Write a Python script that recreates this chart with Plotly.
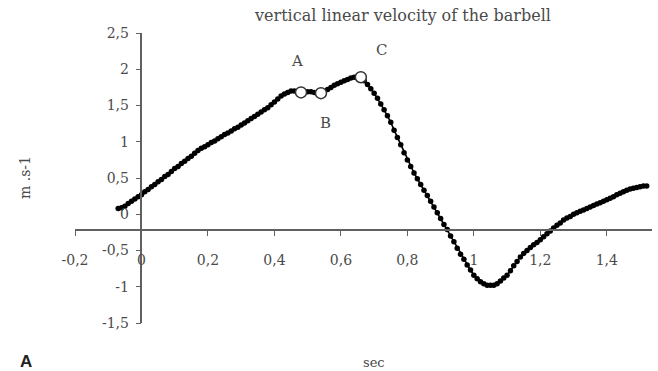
import plotly.graph_objects as go

# ---- data ----
time_s = [round(-0.07 + 0.01 * i, 2) for i in range(160)]
velocity = [
    0.08, 0.09, 0.11, 0.15, 0.18, 0.21, 0.24,                      # -0.07 .. -0.01
    0.27, 0.31, 0.34, 0.38, 0.41, 0.45, 0.48, 0.52, 0.55, 0.59,    # 0.00 .. 0.09
    0.63, 0.66, 0.70, 0.73, 0.77, 0.80, 0.84, 0.88, 0.91, 0.93,    # 0.10 .. 0.19
    0.96, 0.99, 1.01, 1.04, 1.07, 1.10, 1.12, 1.15, 1.18, 1.20,    # 0.20 .. 0.29
    1.23, 1.26, 1.29, 1.32, 1.35, 1.38, 1.41, 1.44, 1.47, 1.51,    # 0.30 .. 0.39
    1.55, 1.59, 1.63, 1.66, 1.68, 1.70, 1.70, 1.69, 1.68, 1.69,    # 0.40 .. 0.49
    1.69, 1.69, 1.68, 1.67, 1.67, 1.69, 1.72, 1.75, 1.78, 1.80,    # 0.50 .. 0.59
    1.82, 1.84, 1.86, 1.88, 1.89, 1.90, 1.89, 1.84, 1.79, 1.73,    # 0.60 .. 0.69
    1.67, 1.60, 1.52, 1.44, 1.36, 1.27, 1.16, 1.06, 0.96, 0.85,    # 0.70 .. 0.79
    0.75, 0.66, 0.57, 0.49, 0.41, 0.33, 0.26, 0.18, 0.10, 0.02,    # 0.80 .. 0.89
    -0.06, -0.14, -0.21, -0.30, -0.38, -0.47, -0.55, -0.62, -0.70, -0.77,  # 0.90 .. 0.99
    -0.84, -0.89, -0.93, -0.96, -0.98, -0.98, -0.98, -0.96, -0.92, -0.88,  # 1.00 .. 1.09
    -0.84, -0.78, -0.71, -0.65, -0.59, -0.54, -0.50, -0.46, -0.42, -0.39,  # 1.10 .. 1.19
    -0.35, -0.31, -0.27, -0.23, -0.19, -0.15, -0.12, -0.08, -0.05, -0.03,  # 1.20 .. 1.29
    0.00, 0.02, 0.04, 0.06, 0.08, 0.10, 0.12, 0.14, 0.16, 0.18,    # 1.30 .. 1.39
    0.20, 0.22, 0.24, 0.27, 0.29, 0.31, 0.33, 0.35, 0.36, 0.37,    # 1.40 .. 1.49
    0.38, 0.39, 0.39,                                              # 1.50 .. 1.52
]
key_labels = ["A", "B", "C"]
key_t = [0.48, 0.54, 0.66]
key_v = [1.68, 1.67, 1.89]

x_ticks = [-0.2, 0, 0.2, 0.4, 0.6, 0.8, 1, 1.2, 1.4]
x_ticktext = ["-0,2", "0", "0,2", "0,4", "0,6", "0,8", "1", "1,2", "1,4"]
y_ticks = [-1.5, -1, -0.5, 0, 0.5, 1, 1.5, 2, 2.5]
y_ticktext = ["-1,5", "-1", "-0,5", "0", "0,5", "1", "1,5", "2", "2,5"]

title_text = "vertical linear velocity of the barbell"
y_title = "m .s-1"
x_title = "sec"
panel_label = "A"

# ---- layout constants ----
W, H = 658, 371
ML, MR, MT, MB = 75, 6, 33, 48
PW, PH = W - ML - MR, H - MT - MB
X_RANGE = [-0.2, 1.536]
Y_RANGE = [-1.5, 2.5]
X_AXIS_AT = -0.22   # value on y where the horizontal axis line sits
SERIF = "DejaVu Serif"
AXIS_COLOR = "#606060"
TEXT_COLOR = "#4a4a4a"


def px_to_plot(px, py):
    """figure pixel -> plot-area paper fraction"""
    return (px - ML) / PW, (H - MB - py) / PH


fig = go.Figure()
fig.add_trace(go.Scatter(
    x=time_s, y=velocity, mode="lines+markers",
    line=dict(color="black", width=1.6),
    marker=dict(color="black", size=5.5),
    showlegend=False, hoverinfo="skip",
))
fig.add_trace(go.Scatter(
    x=key_t, y=key_v, mode="markers",
    marker=dict(color="white", size=11, line=dict(color="#333333", width=1.5)),
    showlegend=False, hoverinfo="skip",
))

shifts = {"A": (-4, 31), "B": (5, -30), "C": (21, 27)}
for lab, t, v in zip(key_labels, key_t, key_v):
    dx, dy = shifts[lab]
    fig.add_annotation(x=t, y=v, xref="x", yref="y", text=lab, showarrow=False,
                       xshift=dx, yshift=dy,
                       font=dict(family=SERIF, size=15, color=TEXT_COLOR))

x_pos = (X_AXIS_AT - Y_RANGE[0]) / (Y_RANGE[1] - Y_RANGE[0])
y_pos = (0 - X_RANGE[0]) / (X_RANGE[1] - X_RANGE[0])

tickfont = dict(family=SERIF, size=14, color=TEXT_COLOR)
fig.update_layout(
    width=W, height=H,
    margin=dict(l=ML, r=MR, t=MT, b=MB),
    paper_bgcolor="white", plot_bgcolor="white",
    separators=", ",
    title=dict(text=title_text, x=374 / W, y=1 - 15 / H, xref="paper",
               xanchor="center", yanchor="middle",
               font=dict(family=SERIF, size=16, color=TEXT_COLOR)),
    xaxis=dict(range=X_RANGE, anchor="free", position=x_pos,
               tickvals=x_ticks, ticktext=x_ticktext,
               showgrid=False, zeroline=False,
               showline=True, linecolor=AXIS_COLOR, linewidth=1.5,
               ticks="outside", ticklen=5, tickcolor=AXIS_COLOR, tickwidth=1,
               tickfont=tickfont, ticklabelstandoff=12),
    yaxis=dict(range=Y_RANGE, anchor="free", position=y_pos,
               tickvals=y_ticks, ticktext=y_ticktext,
               showgrid=False, zeroline=False,
               showline=True, linecolor=AXIS_COLOR, linewidth=1.5,
               ticks="outside", ticklen=5, tickcolor=AXIS_COLOR, tickwidth=1,
               tickfont=tickfont, ticklabelstandoff=4),
)

ax_, ay_ = px_to_plot(25, 178)
fig.add_annotation(x=ax_, y=ay_, xref="paper", yref="paper",
                   text=y_title, textangle=-90, showarrow=False,
                   xanchor="center", yanchor="middle",
                   font=dict(family=SERIF, size=14, color=TEXT_COLOR))
ax_, ay_ = px_to_plot(374, 362)
fig.add_annotation(x=ax_, y=ay_, xref="paper", yref="paper",
                   text=x_title, showarrow=False, xanchor="center", yanchor="middle",
                   font=dict(family=SERIF, size=13, color=TEXT_COLOR))
ax_, ay_ = px_to_plot(26, 361)
fig.add_annotation(x=ax_, y=ay_, xref="paper", yref="paper",
                   text="<b>" + panel_label + "</b>", showarrow=False,
                   xanchor="center", yanchor="middle",
                   font=dict(family="Liberation Sans", size=17, color="#222222"))

fig.write_html("out.html")
